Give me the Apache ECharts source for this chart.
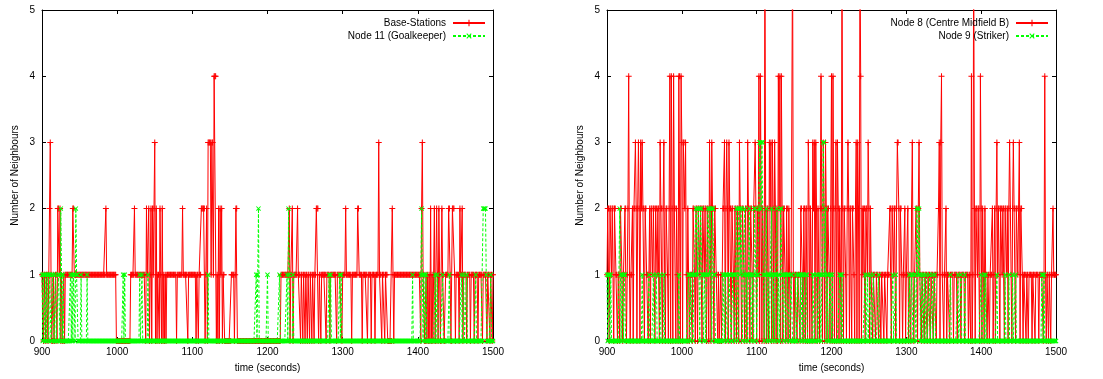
<!DOCTYPE html>
<html><head><meta charset="utf-8">
<script src="https://cdn.jsdelivr.net/npm/echarts@6/dist/echarts.min.js"></script>
<style>html,body{margin:0;padding:0;background:#fff}#c{width:1103px;height:379px}</style>
</head><body><div id="c"></div><script>
// Axis settings / labels
const xMin = 900, xMax = 1500, xStep = 100;
const yMin = 0, yMax = 5, yStep = 1;
const xTitle = 'time (seconds)';
const yTitle = 'Number of Neighbours';
const leftNames = ['Base-Stations', 'Node 11 (Goalkeeper)'];
const rightNames = ['Node 8 (Centre Midfield B)', 'Node 9 (Striker)'];

// Series values as runs: [time from which the value holds, value]
const baseStations = [[900,1],[902,0],[903,1],[905,0],[906,1],[908,0],[909,1],[910,2],[911,3],[912,1],[913,0],[915,1],[916,0],[918,1],[920,0],[921,2],[923,1],[924,2],[925,0],[926,1],[927,0],[929,1],[930,0],[931,1],[941,2],[943,1],[985,2],[986,1],[999,0],[1018,1],[1023,2],[1024,1],[1038,0],[1039,2],[1040,1],[1042,2],[1043,0],[1044,1],[1045,2],[1046,0],[1047,2],[1048,1],[1049,2],[1050,3],[1051,0],[1052,2],[1053,0],[1054,1],[1056,0],[1057,2],[1058,1],[1059,0],[1060,2],[1061,0],[1062,1],[1063,0],[1064,1],[1065,0],[1066,1],[1079,0],[1080,1],[1087,2],[1088,1],[1094,0],[1095,1],[1105,0],[1106,1],[1108,0],[1109,1],[1112,2],[1117,0],[1118,1],[1119,2],[1120,0],[1121,3],[1125,1],[1126,3],[1128,1],[1129,4],[1132,0],[1133,1],[1134,0],[1135,2],[1136,0],[1137,2],[1138,1],[1139,2],[1140,0],[1141,1],[1143,0],[1152,1],[1156,0],[1157,1],[1158,2],[1160,0],[1218,1],[1229,2],[1230,0],[1231,1],[1233,2],[1234,0],[1235,1],[1240,2],[1241,1],[1244,0],[1245,1],[1247,0],[1248,1],[1250,0],[1251,1],[1253,0],[1254,1],[1256,0],[1257,1],[1259,0],[1260,1],[1262,0],[1263,1],[1265,2],[1268,0],[1269,1],[1271,0],[1272,1],[1278,0],[1279,1],[1283,0],[1284,1],[1292,0],[1293,1],[1299,0],[1300,1],[1304,2],[1305,1],[1312,0],[1313,1],[1320,2],[1322,1],[1326,0],[1327,1],[1333,0],[1334,1],[1338,0],[1339,1],[1343,0],[1344,1],[1348,3],[1349,1],[1352,0],[1353,1],[1356,0],[1357,1],[1360,0],[1366,2],[1367,1],[1368,0],[1369,1],[1404,0],[1405,2],[1406,3],[1407,1],[1409,0],[1411,1],[1412,0],[1413,1],[1414,0],[1415,1],[1416,0],[1417,2],[1418,0],[1419,1],[1420,0],[1421,1],[1422,2],[1423,0],[1425,2],[1426,1],[1427,0],[1428,2],[1429,1],[1430,0],[1432,2],[1433,1],[1435,0],[1437,1],[1441,2],[1443,1],[1444,0],[1446,2],[1449,1],[1450,0],[1451,1],[1455,0],[1456,2],[1457,1],[1459,2],[1460,0],[1461,1],[1465,0],[1466,1],[1470,0],[1471,1],[1475,0],[1476,1],[1480,0],[1481,1],[1486,0],[1487,1],[1492,0],[1493,1],[1496,0],[1497,1],[1499,0],[1500,1]];

const goalkeeper = [[900,1],[901,0],[902,1],[904,0],[905,1],[906,0],[907,1],[909,0],[910,1],[912,0],[914,1],[916,0],[918,1],[919,0],[922,1],[924,0],[925,2],[926,1],[927,0],[928,1],[929,0],[938,1],[939,0],[940,1],[941,0],[942,1],[944,0],[945,2],[946,1],[948,0],[952,1],[953,0],[960,1],[961,0],[1008,1],[1009,0],[1010,1],[1011,0],[1030,1],[1031,0],[1033,1],[1034,0],[1041,1],[1042,0],[1121,1],[1122,0],[1185,1],[1186,0],[1187,1],[1188,2],[1189,0],[1200,1],[1201,0],[1216,1],[1217,0],[1226,1],[1227,0],[1228,2],[1229,1],[1230,0],[1234,1],[1235,0],[1282,1],[1283,0],[1284,1],[1285,0],[1296,1],[1297,0],[1298,1],[1299,0],[1393,1],[1394,0],[1404,1],[1405,2],[1406,1],[1407,0],[1408,1],[1410,0],[1411,1],[1412,0],[1423,1],[1424,0],[1426,1],[1427,0],[1433,1],[1434,0],[1442,1],[1443,0],[1458,1],[1459,0],[1461,1],[1462,0],[1465,1],[1466,0],[1477,1],[1478,0],[1487,2],[1491,1],[1492,0],[1497,1],[1498,0]];

const node8 = [[900,1],[901,2],[903,0],[904,2],[906,1],[907,2],[909,0],[910,2],[912,1],[914,0],[915,1],[917,0],[918,2],[920,1],[921,0],[922,1],[924,2],[926,0],[927,1],[928,2],[929,4],[930,1],[931,0],[932,1],[934,2],[935,0],[936,2],[938,3],[939,2],[940,0],[941,2],[942,3],[943,2],[944,0],[945,3],[946,2],[947,3],[948,2],[950,0],[951,2],[953,1],[955,0],[956,1],[957,2],[958,0],[959,2],[961,1],[962,2],[964,0],[965,2],[967,1],[968,2],[970,0],[971,3],[972,2],[974,0],[975,2],[976,3],[977,1],[978,0],[979,2],[981,1],[982,0],[983,2],[984,4],[985,0],[986,4],[987,2],[988,0],[989,4],[990,2],[992,0],[993,2],[994,1],[995,0],[996,4],[998,0],[999,4],[1000,3],[1001,0],[1002,3],[1004,2],[1005,3],[1006,1],[1007,0],[1008,2],[1009,1],[1010,0],[1011,1],[1014,0],[1015,2],[1017,1],[1018,0],[1019,2],[1021,0],[1022,2],[1024,1],[1025,2],[1027,0],[1028,2],[1030,1],[1031,2],[1033,0],[1034,2],[1036,0],[1037,3],[1038,2],[1039,0],[1040,3],[1041,2],[1043,0],[1044,2],[1046,1],[1048,0],[1049,1],[1050,0],[1052,1],[1053,0],[1054,1],[1055,2],[1057,3],[1058,0],[1059,2],[1060,3],[1061,2],[1062,0],[1063,3],[1064,2],[1066,0],[1067,2],[1069,1],[1070,0],[1071,2],[1073,0],[1074,2],[1076,0],[1077,3],[1078,2],[1080,0],[1081,2],[1083,1],[1084,0],[1085,2],[1087,0],[1088,3],[1089,2],[1091,0],[1092,2],[1094,1],[1095,0],[1096,2],[1098,3],[1099,2],[1100,0],[1101,2],[1102,1],[1103,4],[1104,0],[1105,4],[1106,2],[1107,0],[1108,2],[1109,1],[1110,0],[1111,6],[1112,2],[1113,0],[1114,2],[1116,0],[1117,3],[1118,2],[1119,3],[1120,0],[1121,3],[1122,2],[1123,0],[1124,3],[1125,2],[1126,0],[1127,2],[1128,0],[1129,4],[1130,2],[1131,4],[1132,0],[1133,4],[1134,2],[1135,0],[1136,2],[1138,1],[1139,0],[1140,2],[1142,0],[1143,2],[1144,1],[1145,0],[1146,1],[1148,6],[1149,1],[1150,0],[1151,1],[1154,0],[1155,1],[1158,0],[1159,2],[1161,1],[1162,0],[1163,2],[1165,0],[1166,2],[1168,0],[1169,3],[1170,2],[1171,0],[1172,2],[1173,1],[1174,0],[1175,3],[1176,2],[1177,3],[1178,0],[1179,3],[1180,2],[1181,0],[1182,2],[1183,1],[1184,0],[1185,2],[1186,4],[1187,2],[1188,0],[1189,3],[1190,2],[1191,0],[1192,3],[1193,2],[1194,0],[1195,2],[1197,1],[1198,0],[1199,2],[1200,4],[1201,0],[1202,4],[1203,2],[1204,0],[1205,2],[1206,3],[1207,0],[1208,3],[1209,2],[1210,0],[1211,2],[1212,1],[1213,0],[1214,6],[1215,2],[1216,0],[1217,2],[1219,1],[1220,0],[1221,2],[1222,3],[1223,2],[1224,0],[1225,2],[1227,0],[1228,2],[1230,1],[1231,0],[1232,2],[1233,3],[1234,0],[1235,3],[1236,2],[1237,0],[1238,6],[1239,4],[1240,0],[1241,2],[1242,1],[1243,2],[1245,0],[1246,2],[1248,1],[1249,3],[1250,2],[1251,0],[1252,2],[1253,1],[1255,0],[1256,1],[1259,0],[1260,1],[1263,0],[1264,1],[1266,0],[1267,1],[1270,0],[1271,1],[1274,0],[1275,1],[1278,2],[1280,0],[1281,2],[1283,1],[1284,2],[1286,0],[1287,2],[1288,3],[1290,2],[1291,0],[1292,2],[1294,1],[1295,0],[1296,1],[1298,2],[1299,0],[1300,1],[1302,2],[1303,0],[1304,1],[1306,0],[1307,2],[1308,3],[1309,1],[1310,0],[1311,1],[1313,2],[1315,0],[1316,2],[1317,3],[1318,1],[1320,0],[1321,1],[1324,0],[1325,1],[1328,0],[1329,1],[1332,0],[1333,1],[1336,0],[1337,1],[1340,0],[1341,1],[1343,2],[1344,3],[1345,0],[1346,3],[1347,4],[1348,1],[1350,0],[1351,1],[1353,2],[1354,0],[1355,1],[1358,0],[1359,1],[1363,0],[1364,1],[1368,0],[1369,1],[1373,0],[1374,1],[1378,0],[1379,1],[1383,0],[1384,1],[1386,0],[1387,4],[1388,0],[1389,1],[1390,6],[1391,2],[1392,0],[1393,2],[1395,1],[1396,2],[1398,0],[1399,4],[1400,2],[1401,0],[1402,2],[1403,1],[1404,0],[1405,2],[1406,1],[1408,0],[1409,1],[1411,0],[1412,1],[1415,2],[1416,0],[1417,1],[1418,2],[1419,0],[1420,2],[1421,3],[1422,1],[1423,2],[1425,0],[1426,2],[1428,1],[1429,2],[1431,0],[1432,2],[1434,1],[1435,2],[1436,0],[1437,2],[1438,3],[1439,2],[1440,1],[1441,0],[1442,2],[1443,3],[1444,2],[1446,0],[1447,2],[1449,1],[1450,2],[1451,3],[1452,0],[1453,2],[1455,1],[1456,0],[1457,1],[1460,0],[1461,1],[1463,0],[1464,1],[1468,0],[1469,1],[1472,0],[1473,1],[1477,0],[1478,1],[1483,0],[1484,1],[1485,4],[1486,1],[1487,0],[1488,1],[1490,0],[1491,1],[1493,0],[1494,1],[1496,2],[1497,1]];

const striker = [[900,1],[901,0],[902,1],[904,0],[905,1],[906,0],[917,2],[918,1],[919,0],[920,1],[922,0],[923,1],[925,0],[947,1],[948,0],[956,1],[957,0],[962,1],[963,0],[966,1],[967,0],[971,1],[972,0],[976,1],[977,0],[996,1],[997,0],[1009,1],[1011,0],[1012,1],[1015,0],[1016,1],[1019,2],[1021,1],[1022,2],[1024,0],[1025,2],[1027,1],[1029,0],[1030,1],[1032,0],[1033,1],[1035,2],[1037,1],[1038,2],[1040,0],[1041,2],[1043,1],[1045,0],[1055,1],[1057,0],[1058,1],[1061,0],[1063,1],[1066,0],[1068,1],[1071,0],[1072,1],[1073,2],[1075,0],[1076,2],[1078,1],[1079,2],[1081,0],[1082,1],[1084,2],[1085,0],[1086,1],[1088,0],[1089,1],[1090,2],[1091,1],[1093,0],[1094,1],[1096,0],[1097,2],[1099,1],[1100,0],[1101,1],[1103,2],[1104,3],[1106,2],[1107,3],[1109,1],[1110,0],[1111,1],[1113,2],[1114,0],[1115,1],[1117,0],[1118,1],[1120,2],[1121,0],[1122,1],[1124,0],[1125,1],[1127,2],[1128,0],[1129,1],[1131,0],[1132,2],[1134,1],[1136,0],[1137,1],[1140,0],[1141,1],[1144,0],[1146,1],[1148,0],[1152,1],[1153,0],[1155,1],[1158,0],[1159,1],[1161,0],[1162,1],[1164,0],[1166,1],[1168,0],[1175,1],[1177,0],[1180,1],[1182,0],[1184,1],[1186,0],[1187,1],[1189,3],[1191,1],[1192,2],[1193,0],[1194,1],[1196,0],[1198,1],[1200,0],[1201,1],[1202,0],[1211,1],[1213,0],[1214,1],[1215,0],[1245,1],[1246,0],[1248,1],[1249,0],[1252,1],[1253,0],[1256,1],[1257,0],[1263,1],[1264,0],[1282,1],[1283,0],[1286,1],[1287,0],[1304,1],[1305,0],[1307,1],[1309,0],[1311,1],[1313,0],[1314,2],[1316,1],[1317,2],[1318,1],[1319,0],[1321,1],[1322,0],[1324,1],[1325,0],[1327,1],[1328,0],[1331,1],[1332,0],[1335,1],[1336,0],[1338,1],[1339,0],[1359,1],[1360,0],[1369,1],[1370,0],[1373,1],[1374,0],[1378,1],[1379,0],[1400,1],[1401,0],[1404,1],[1405,0],[1406,1],[1407,0],[1421,1],[1422,0],[1432,1],[1433,0],[1437,1],[1438,0],[1442,1],[1443,0],[1446,1],[1447,0],[1481,1],[1483,0],[1484,1],[1485,0]];

// one sample per second, each holding the run's value
function expand(runs) {
  const out = [];
  for (let i = 0; i < runs.length; i++) {
    const t0 = runs[i][0], v = runs[i][1];
    const t1 = i + 1 < runs.length ? runs[i + 1][0] : xMax + 1;
    for (let s = t0; s < t1 && s <= xMax; s++) out.push([s, v]);
  }
  return out;
}

const FONT = "'Liberation Sans', Arial, Helvetica, sans-serif";
const RED = '#ff0000', GREEN = '#00ff00';
const PLUS = 'path://M0,2.5h2.5v-2.5h1v2.5h2.5v1h-2.5v2.5h-1v-2.5h-2.5z';

const grids = [
  { left: 42, top: 10, width: 451, height: 331 },
  { left: 607, top: 10, width: 449, height: 331 }
];

function xAx(g, top) {
  return {
    type: 'value', gridIndex: g, min: xMin, max: xMax, interval: xStep,
    position: top ? 'top' : 'bottom',
    name: top ? '' : xTitle, nameLocation: 'middle', nameGap: 22,
    nameTextStyle: { fontFamily: FONT, fontSize: 10, color: '#000' },
    axisLine: { show: true, onZero: false, lineStyle: { color: '#000', width: 1 } },
    axisTick: { show: true, inside: true, length: 4, lineStyle: { color: '#000' } },
    axisLabel: { show: !top, fontFamily: FONT, fontSize: 10, color: '#000', margin: 6,
      formatter: function (v) { return String(v); } },
    splitLine: { show: false }
  };
}
function yAx(g, right) {
  return {
    type: 'value', gridIndex: g, min: yMin, max: yMax, interval: yStep,
    position: right ? 'right' : 'left',
    name: right ? '' : yTitle, nameLocation: 'middle', nameGap: 22,
    nameTextStyle: { fontFamily: FONT, fontSize: 10, color: '#000' },
    axisLine: { show: true, onZero: false, lineStyle: { color: '#000', width: 1 } },
    axisTick: { show: true, inside: true, length: 4, lineStyle: { color: '#000' } },
    axisLabel: { show: !right, fontFamily: FONT, fontSize: 10, color: '#000', margin: 7,
      formatter: function (v) { return String(v); } },
    splitLine: { show: false }
  };
}

function ser(name, runs, g, color, dashed) {
  return {
    type: 'line', name: name, xAxisIndex: g * 2, yAxisIndex: g * 2,
    data: expand(runs), clip: true,
    symbol: PLUS, symbolSize: 6, symbolRotate: dashed ? 45 : 0,
    showAllSymbol: true,
    itemStyle: { color: color },
    lineStyle: { color: color, width: 1, type: dashed ? [3, 2] : 'solid' },
    emphasis: { disabled: true },
    animation: false
  };
}

const chart = echarts.init(document.getElementById('c'), null, { renderer: 'canvas' });
chart.setOption({
  backgroundColor: '#fff',
  animation: false,
  grid: grids,
  xAxis: [xAx(0, false), xAx(0, true), xAx(1, false), xAx(1, true)],
  yAxis: [yAx(0, false), yAx(0, true), yAx(1, false), yAx(1, true)],
  legend: [
    { data: leftNames, orient: 'vertical', right: 612, top: 13, align: 'right',
      itemWidth: 32, itemHeight: 8, itemGap: 3, selectedMode: false,
      textStyle: { fontFamily: FONT, fontSize: 10, color: '#000', padding: [0, 2, 0, 0] } },
    { data: rightNames, orient: 'vertical', right: 49, top: 13, align: 'right',
      itemWidth: 32, itemHeight: 8, itemGap: 3, selectedMode: false,
      textStyle: { fontFamily: FONT, fontSize: 10, color: '#000', padding: [0, 2, 0, 0] } }
  ],
  series: [
    ser(leftNames[0], baseStations, 0, RED, false),
    ser(leftNames[1], goalkeeper, 0, GREEN, true),
    ser(rightNames[0], node8, 1, RED, false),
    ser(rightNames[1], striker, 1, GREEN, true)
  ]
});
</script></body></html>
